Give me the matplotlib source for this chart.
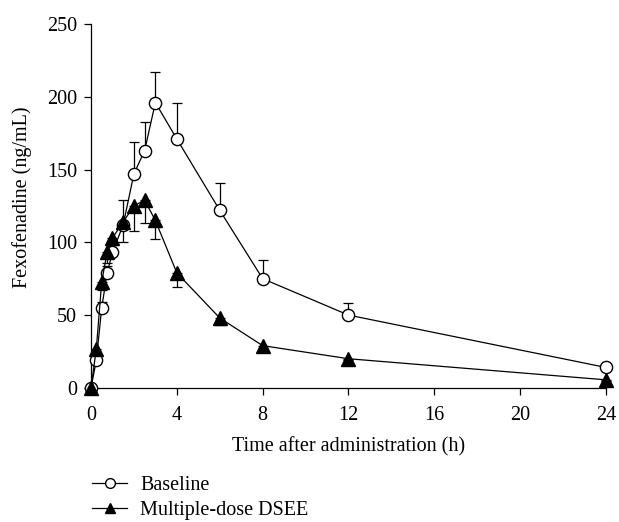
import matplotlib
matplotlib.use("Agg")
import matplotlib.pyplot as plt
import numpy as np

# sampling times (h)
time_h = [0, 0.25, 0.5, 0.75, 1, 1.5, 2, 2.5, 3, 4, 6, 8, 12, 24]

# baseline: mean and upper SD
baseline = [0, 19, 55, 79, 93, 112, 147, 163, 196, 171, 122, 75, 50, 14]
baseline_sd = [0, 2, 4, 5, 8, 17, 22, 20, 21, 25, 19, 13, 8, 2]

# multiple-dose DSEE: mean and lower SD
dsee = [0, 27, 73, 93, 103, 114, 125, 129, 115, 79, 48, 29, 20, 5.5]
dsee_sd = [0, 3, 6, 7, 5, 14, 17, 16, 13, 10, 5, 2, 1, 1]

x_ticks = [0, 4, 8, 12, 16, 20, 24]
y_ticks = [0, 50, 100, 150, 200, 250]


def main() -> None:
    plt.rcParams["font.family"] = ["Liberation Serif", "DejaVu Serif"]
    plt.rcParams["font.size"] = 14.5

    fig = plt.figure(figsize=(6.19, 5.22), dpi=100)
    ax = fig.add_axes([0.147, 0.257, 0.832, 0.697])

    zeros = np.zeros(len(time_h))
    ax.errorbar(time_h, baseline, yerr=[zeros, baseline_sd], fmt="none",
                ecolor="black", elinewidth=0.9, capsize=3.6, capthick=0.9,
                zorder=2, clip_on=False)
    ax.errorbar(time_h, dsee, yerr=[dsee_sd, zeros], fmt="none",
                ecolor="black", elinewidth=0.9, capsize=3.6, capthick=0.9,
                zorder=2, clip_on=False)

    ax.plot(time_h, baseline, color="black", linewidth=0.9, marker="o",
            markersize=8.8, markerfacecolor="white", markeredgecolor="black",
            markeredgewidth=1.0, label="Baseline", zorder=3, clip_on=False)
    ax.plot(time_h, dsee, color="black", linewidth=0.9, marker="^",
            markersize=9.8, markerfacecolor="black", markeredgecolor="black",
            label="Multiple-dose DSEE", zorder=4, clip_on=False)

    ax.set_xlim(0, 24)
    ax.set_ylim(0, 250)
    ax.set_xticks(x_ticks)
    ax.set_yticks(y_ticks)
    ax.spines["top"].set_visible(False)
    ax.spines["right"].set_visible(False)
    for side in ("left", "bottom"):
        ax.spines[side].set_linewidth(0.9)
    ax.tick_params(direction="out", length=5, width=0.9, labelsize=14.5, pad=5)
    ax.tick_params(axis="x", pad=8)

    ax.set_xlabel("Time after administration (h)", fontsize=14.5, labelpad=9)
    ax.set_ylabel("Fexofenadine (ng/mL)", fontsize=14.5)
    ax.yaxis.set_label_coords(-0.115, 0.525)

    fig.legend(loc="upper left", bbox_to_anchor=(0.1486, 0.089),
               frameon=False, fontsize=14.5, handlelength=1.75, handletextpad=0.65,
               labelspacing=0.3, borderpad=0, borderaxespad=0, markerscale=0.8)

    fig.savefig("out.png", dpi=100)
    plt.close(fig)


if __name__ == "__main__":
    main()
